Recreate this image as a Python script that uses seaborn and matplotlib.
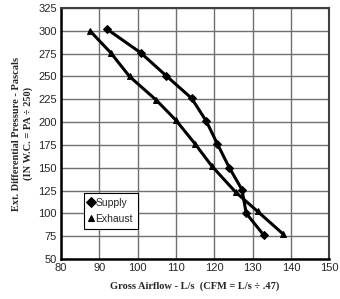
import pandas as pd
import matplotlib
matplotlib.use("Agg")
import matplotlib.pyplot as plt
import seaborn as sns

# Supply (diamonds)
supply_flow = [92.0, 100.8, 107.4, 114.1, 117.9, 120.8, 123.9, 127.2, 128.3, 132.9]
supply_pa = [302, 276, 251, 226, 201, 176, 150, 126, 100, 76]

# Exhaust (triangles)
exhaust_flow = [87.6, 93.0, 97.9, 104.9, 110.0, 115.0, 119.3, 125.6, 131.3, 138.0]
exhaust_pa = [300, 276, 250, 224, 202, 176, 152, 123, 102, 77]

x_ticks = [80, 90, 100, 110, 120, 130, 140, 150]
y_ticks = [50, 75, 100, 125, 150, 175, 200, 225, 250, 275, 300, 325]

df = pd.concat([
    pd.DataFrame({"flow": supply_flow, "pa": supply_pa, "serie": "Supply"}),
    pd.DataFrame({"flow": exhaust_flow, "pa": exhaust_pa, "serie": "Exhaust"}),
])

sns.set_style("white")
plt.rcParams["font.family"] = ["Liberation Sans", "DejaVu Sans"]

fig = plt.figure(figsize=(3.4, 2.99), dpi=100)
ax = fig.add_axes([0.179, 0.134, 0.79, 0.839])

sns.lineplot(data=df, x="flow", y="pa", hue="serie", style="serie",
             markers={"Supply": "D", "Exhaust": "^"}, dashes=False,
             palette={"Supply": "black", "Exhaust": "black"},
             sort=False, estimator=None, linewidth=2.2, markersize=4.3,
             markeredgecolor="black", ax=ax)

ax.set_xlim(80, 150)
ax.set_ylim(50, 325)
ax.set_xticks(x_ticks)
ax.set_yticks(y_ticks)
ax.grid(True, color="#707070", linewidth=1.0)
ax.tick_params(labelsize=8, length=0, pad=3)

for s in ["left", "bottom"]:
    ax.spines[s].set_color("black")
    ax.spines[s].set_linewidth(1.8)
for s in ["top", "right"]:
    ax.spines[s].set_color("#404040")
    ax.spines[s].set_linewidth(1.5)

ax.set_xlabel("Gross Airflow - L/s  (CFM = L/s \u00f7 .47)",
              fontfamily="Liberation Serif", fontweight="bold", fontsize=7.5, labelpad=6)
ax.set_ylabel("Ext. Differential Pressure - Pascals\n(IN W.C. = PA \u00f7 250)",
              fontfamily="Liberation Serif", fontweight="bold", fontsize=7.5, labelpad=4)

leg = ax.legend(loc="lower left", bbox_to_anchor=(0.065, 0.1), fontsize=7.5,
                handlelength=0.5, handletextpad=0.2, borderpad=0.45,
                labelspacing=0.6, fancybox=False, framealpha=1, markerscale=1.1)
leg.get_frame().set_edgecolor("black")
leg.get_frame().set_linewidth(0.8)
for h in leg.legend_handles:
    h.set_linestyle("none")

fig.savefig("out.png", dpi=100)
